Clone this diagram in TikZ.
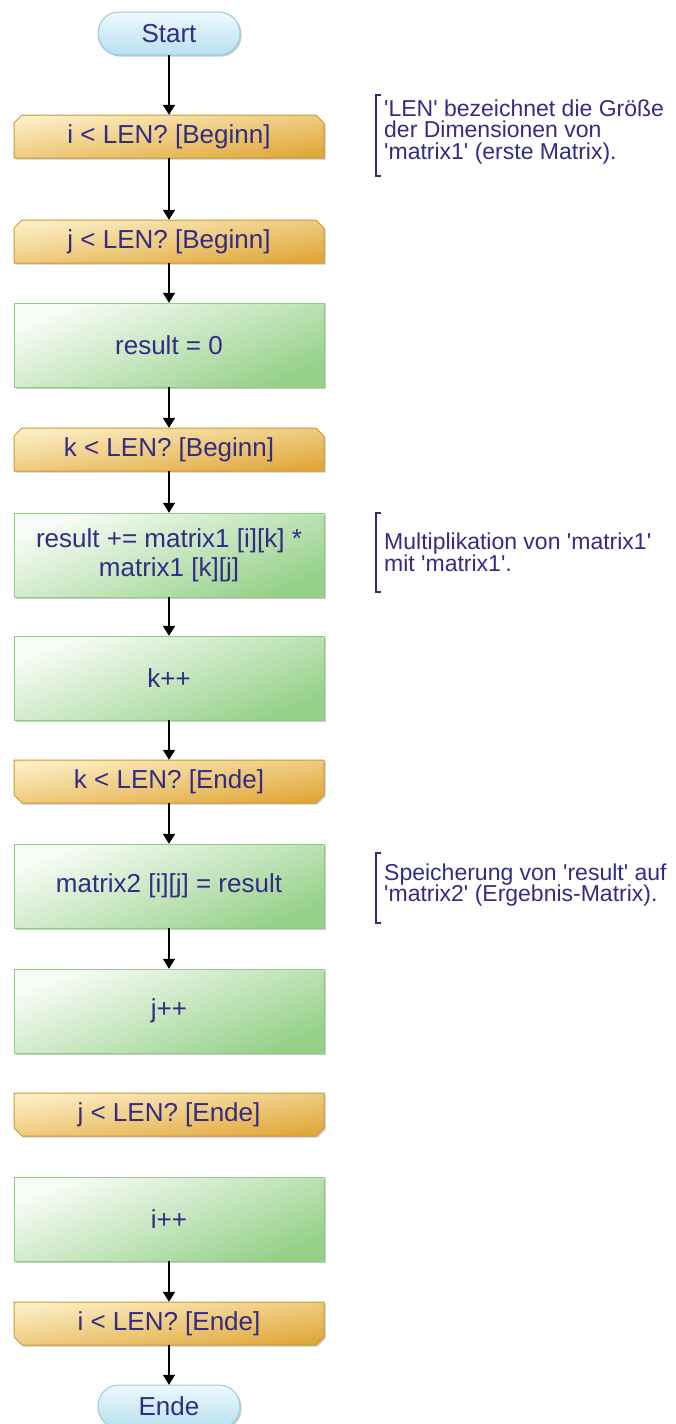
\documentclass[tikz,border=0pt]{standalone}
\usepackage{fontspec}
\setmainfont{Liberation Sans}[Ligatures=TeXOff]
\usetikzlibrary{arrows.meta,shadows}

\definecolor{ink}{RGB}{50,44,132}
\definecolor{goldA}{RGB}{252,238,196}
\definecolor{goldB}{RGB}{225,168,58}
\definecolor{goldE}{RGB}{206,152,48}
\definecolor{greenA}{RGB}{248,252,246}
\definecolor{greenB}{RGB}{150,209,138}
\definecolor{greenE}{RGB}{142,205,130}
\definecolor{blueA}{RGB}{238,249,253}
\definecolor{blueB}{RGB}{182,225,240}
\definecolor{blueE}{RGB}{148,204,224}

\tikzset{
  boxshadow/.style={drop shadow={shadow xshift=1.6pt,shadow yshift=-1.6pt,opacity=.35,fill=black!60}},
  loopshape/.style={boxshadow, draw=goldE, line width=1pt, top color=goldA, bottom color=goldB, shading angle=8},
  procshape/.style={boxshadow, draw=greenE, line width=1pt, top color=greenA, bottom color=greenB, shading angle=22},
  termshape/.style={boxshadow, draw=blueE, line width=1pt, top color=blueA, bottom color=blueB, rounded corners=21pt},
  boxtext/.style={text=ink, font=\fontsize{26}{29}\selectfont, align=center, inner sep=0pt},
  slotnode/.style={boxtext, minimum width=310pt, minimum height=#1},
  termnode/.style={boxtext, minimum width=142pt, minimum height=43pt},
  flow/.style={draw=black, line width=1.5pt, -{Triangle[width=12pt,length=10pt]}},
  bracketline/.style={draw=ink, line width=1.4pt},
  notetext/.style={text=ink, font=\fontsize{23}{21.8}\selectfont, align=left, inner sep=0pt, anchor=west}
}

% loop head: upper corners cut off
\newcommand\loophead[3]{%
  \path[loopshape] (14,#2+8) -- (22,#2) -- (316,#2) -- (324,#2+8) -- (324,#2+43) -- (14,#2+43) -- cycle;
  \node[slotnode=43pt] (#1) at (169,#2+21.5) {#3};}
% loop foot: lower corners cut off
\newcommand\loopfoot[3]{%
  \path[loopshape] (14,#2) -- (324,#2) -- (324,#2+35) -- (316,#2+43) -- (22,#2+43) -- (14,#2+35) -- cycle;
  \node[slotnode=43pt] (#1) at (169,#2+21.5) {#3};}
% plain statement
\newcommand\stmt[3]{%
  \path[procshape] (14,#2) rectangle (324,#2+84);
  \node[slotnode=84pt] (#1) at (169,#2+42) {#3};}
% start / end terminal
\newcommand\terminal[3]{%
  \path[termshape] (98,#2) rectangle (240,#2+43);
  \node[termnode] (#1) at (169,#2+21.5) {#3};}
% side remark with a bracket
\newcommand\remark[5]{%
  \draw[bracketline] (381,#2) -- (376,#2) -- (376,#3) -- (381,#3);
  \node[notetext] (#1) at (384,#4) {#5};}

\begin{document}
\begin{tikzpicture}[x=1pt,y=-1pt]
\useasboundingbox (0,0) rectangle (675,1424);

\terminal{start}{12}{Start}
\loophead{ib}{115}{i < LEN? [Beginn]}
\loophead{jb}{220}{j < LEN? [Beginn]}
\stmt{zero}{303}{result = 0}
\loophead{kb}{428}{k < LEN? [Beginn]}
\stmt{acc}{513}{result += matrix1 [i][k] *\\matrix1 [k][j]}
\stmt{kinc}{636}{k++}
\loopfoot{ke}{760}{k < LEN? [Ende]}
\stmt{store}{844}{matrix2 [i][j] = result}
\stmt{jinc}{969}{j++}
\loopfoot{je}{1093}{j < LEN? [Ende]}
\stmt{iinc}{1177}{i++}
\loopfoot{ie}{1302}{i < LEN? [Ende]}
\terminal{ende}{1385}{Ende}

\draw[flow] (start.south) -- (ib.north);
\draw[flow] (ib.south) -- (jb.north);
\draw[flow] (jb.south) -- (zero.north);
\draw[flow] (zero.south) -- (kb.north);
\draw[flow] (kb.south) -- (acc.north);
\draw[flow] (acc.south) -- (kinc.north);
\draw[flow] (kinc.south) -- (ke.north);
\draw[flow] (ke.south) -- (store.north);
\draw[flow] (store.south) -- (jinc.north);
\draw[flow] (iinc.south) -- (ie.north);
\draw[flow] (ie.south) -- (ende.north);

\remark{n1}{95}{176}{132}{'LEN' bezeichnet die Größe\\der Dimensionen von\\'matrix1' (erste Matrix).}
\remark{n2}{513}{592}{552}{Multiplikation von 'matrix1'\\mit 'matrix1'.}
\remark{n3}{853}{923}{885}{Speicherung von 'result' auf\\'matrix2' (Ergebnis-Matrix).}
\end{tikzpicture}
\end{document}
